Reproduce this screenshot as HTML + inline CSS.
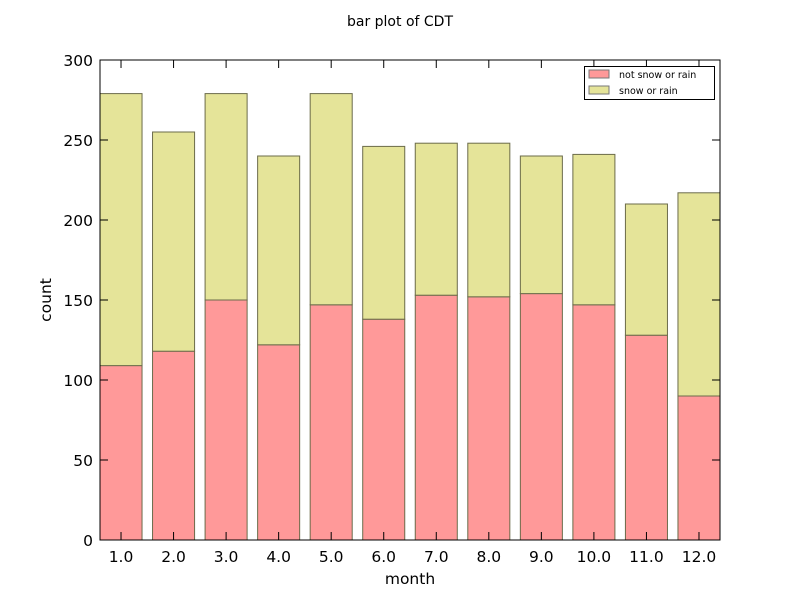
<!DOCTYPE html>
<html><head><meta charset="utf-8"><style>
body{margin:0;background:#fff;}
svg text{font-family:"DejaVu Sans","Liberation Sans",sans-serif;}
</style></head><body>
<svg id="chart" width="800" height="600" viewBox="0 0 800 600">
<rect width="800" height="600" fill="#fff"/>
<text x="400" y="26" font-size="14" text-anchor="middle">bar plot of CDT</text>
<g id="bars"></g>
<g id="axes"></g>
<text x="410" y="584" font-size="15.5" text-anchor="middle">month</text>
<text transform="translate(51,300) rotate(-90)" font-size="15.5" text-anchor="middle">count</text>
<g>
<rect x="584.5" y="66.5" width="130" height="33" fill="#fff" stroke="#000"/>
<rect x="589" y="70" width="20" height="8" fill="#ff9999" stroke="#777"/>
<text x="619" y="78" font-size="9.5">not snow or rain</text>
<rect x="589" y="86" width="20" height="8" fill="#e5e499" stroke="#777"/>
<text x="619" y="94" font-size="9.5">snow or rain</text>
</g>
</svg>
<script>
const months = [1,2,3,4,5,6,7,8,9,10,11,12];
const notSnow = [109,118,150,122,147,138,153,152,154,147,128,90];
const snow = [170,137,129,118,132,108,95,96,86,94,82,127];
const yTicks = [0,50,100,150,200,250,300];
const xLabels = ["1.0","2.0","3.0","4.0","5.0","6.0","7.0","8.0","9.0","10.0","11.0","12.0"];

const L=100,R=720,T=60,B=540;
const x=v=>L+(v-0.6)/(11.8)*(R-L);
const y=v=>B-v/300*(B-T);
const NS="http://www.w3.org/2000/svg";
const bars=document.getElementById('bars'), axes=document.getElementById('axes');
function mk(tag,attrs,parent){const e=document.createElementNS(NS,tag);for(const k in attrs)e.setAttribute(k,attrs[k]);parent.appendChild(e);return e;}
months.forEach((m,i)=>{
  const x0=x(m-0.4), w=x(m+0.4)-x0;
  const r1=mk('rect',{x:x0,y:y(notSnow[i]),width:w,height:y(0)-y(notSnow[i]),fill:'#ff9999',stroke:'#6b6b4a','stroke-width':1},bars);
  
  
  const top=notSnow[i]+snow[i];
  const r2=mk('rect',{x:x0,y:y(top),width:w,height:y(notSnow[i])-y(top),fill:'#e5e499',stroke:'#6b6b4a','stroke-width':1},bars);
  
  
});
mk('rect',{x:L,y:T,width:R-L,height:B-T,fill:'none',stroke:'#000','stroke-width':1},axes);
yTicks.forEach(v=>{
  const yy=y(v);
  mk('line',{x1:L,x2:L+8,y1:yy,y2:yy,stroke:'#000'},axes);
  mk('line',{x1:R-8,x2:R,y1:yy,y2:yy,stroke:'#000'},axes);
  const t=mk('text',{x:L-7,y:yy+6,'font-size':15.5,'text-anchor':'end'},axes);
  t.textContent=v;
  
  
});
months.forEach((m,i)=>{
  const xx=x(m);
  mk('line',{x1:xx,x2:xx,y1:B,y2:B-8,stroke:'#000'},axes);
  mk('line',{x1:xx,x2:xx,y1:T,y2:T+8,stroke:'#000'},axes);
  const t=mk('text',{x:xx,y:B+22,'font-size':15.5,'text-anchor':'middle'},axes);
  t.textContent=xLabels[i];
  
  
});
</script>
</body></html>
